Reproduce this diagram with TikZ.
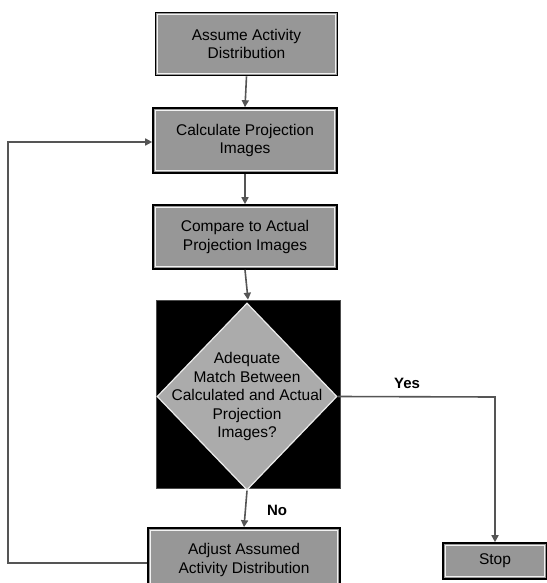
\documentclass[tikz,border=0pt]{standalone}
\usepackage{fontspec}
\setmainfont{Liberation Sans}
\usetikzlibrary{shapes.geometric,arrows.meta}
\definecolor{boxgray}{HTML}{979797}
\definecolor{diagray}{HTML}{ABABAB}
\definecolor{arrowgray}{HTML}{555555}
\tikzset{
  flowbox/.style={draw=black, line width=1.6pt, fill=boxgray, align=center, inner sep=0pt,
    font=\fontsize{15.5}{18.5}\selectfont,
    path picture={\draw[white!90!gray, line width=1.2pt]
      ([shift={(2.2pt,2.2pt)}]path picture bounding box.south west) rectangle
      ([shift={(-2.2pt,-2.2pt)}]path picture bounding box.north east);}},
  flowarrow/.style={draw=arrowgray, line width=1.6pt, -{Triangle[length=7pt,width=7pt]}},
  lbl/.style={font=\fontsize{15}{18}\selectfont\bfseries}
}
\begin{document}
\begin{tikzpicture}[x=1pt,y=-1pt]
\useasboundingbox (0,0) rectangle (546,583);
\fill[white] (0,0) rectangle (546,583);
\node[flowbox, minimum width=182pt, minimum height=63pt] (b1) at (246.5,44) {Assume Activity\\Distribution};
\node[flowbox, minimum width=184pt, minimum height=65pt] (b2) at (245,140.5) {Calculate Projection\\Images};
\node[flowbox, minimum width=184pt, minimum height=64pt] (b3) at (245,237) {Compare to Actual\\Projection Images};
\node[fill=black, draw=black!70, line width=0.6pt, minimum width=184pt, minimum height=188pt, inner sep=0pt] (bk) at (248,394) {};
\node[diamond, draw=white!85!gray, line width=1.2pt, fill=diagray, minimum width=180pt, minimum height=187pt, inner sep=0pt] (d) at (247,396.5) {};
\node[align=center, font=\fontsize{15.5}{18.5}\selectfont] (dt) at (d.center) {Adequate\\Match Between\\Calculated and Actual\\Projection\\Images?};
\node[flowbox, minimum width=192pt, minimum height=64pt] (adj) at (244,560) {Adjust Assumed\\Activity Distribution};
\node[flowbox, minimum width=104pt, minimum height=36pt] (stop) at (495,561) {Stop};
\node[lbl] (yes) at (407,383) {Yes};
\node[lbl] (no) at (277,510) {No};
\coordinate (yc) at (495,397);
\coordinate (fbl) at (8,563);
\coordinate (fbu) at (8,142);
\draw[flowarrow] (b1.south) -- (b2.north);
\draw[flowarrow] (b2.south) -- (b3.north);
\draw[flowarrow] (b3.south) -- (bk.north);
\draw[flowarrow] (d.south) -- (adj.north);
\draw[flowarrow] (d.east) -- (yc) -- (stop.north);
\draw[flowarrow] (adj.west |- fbl) -- (fbl) -- (fbu) -- (b2.west |- fbu);
\end{tikzpicture}
\end{document}
